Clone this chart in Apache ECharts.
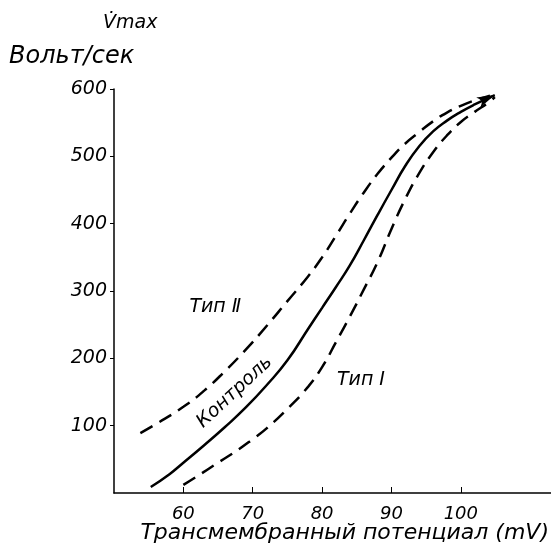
<!DOCTYPE html>
<html>
<head>
<meta charset="utf-8">
<script src="https://cdn.jsdelivr.net/npm/echarts@6/dist/echarts.min.js"></script>
<style>
  html, body { margin: 0; padding: 0; background: #fff; }
  #chart { width: 551px; height: 555px; }
</style>
</head>
<body>
<div id="chart"></div>
<script>
// data: [mV, Volt/sec]
var control = [[55.3, 9], [58, 28], [60, 45], [63, 71], [66, 98], [69, 127], [72, 160], [75, 197],
  [78, 244], [80, 275], [82, 306], [84, 338], [86, 375], [88, 413], [90, 450], [92, 486], [94, 515],
  [96, 537], [98, 553], [100, 566], [102, 577], [104.9, 591]];
var type2 = [[53.8, 89], [56, 102], [60, 128], [63, 152], [66, 181], [69, 213], [72, 248], [75, 285],
  [78, 322], [80, 350], [82, 382], [84, 415], [86, 446], [88, 474], [90, 498], [92, 519], [94, 536],
  [96, 552], [98, 565], [100, 575], [102, 583], [104.2, 590]];
var type1 = [[60, 12], [62, 25], [65, 45], [68, 65], [70, 80], [72, 96], [75, 125], [78, 158], [80, 187],
  [82, 224], [84, 262], [86, 302], [88, 343], [90, 392], [92, 437], [94, 475], [96, 506], [98, 531],
  [100, 551], [102, 566], [104, 580], [104.9, 588]];
var xTicks = [60, 70, 80, 90, 100];
var yTicks = [100, 200, 300, 400, 500, 600];

var font = 'DejaVu Sans';
var myChart = echarts.init(document.getElementById('chart'));

var controlData = control.map(function (p, i) {
  if (i === control.length - 1) {
    return { value: p, symbol: 'arrow', symbolSize: [8, 18], symbolRotate: -66, itemStyle: { color: '#000' } };
  }
  return p;
});

function lineLabel(text, coord, rotate) {
  return {
    symbol: 'circle', symbolSize: 0,
    data: [{ coord: coord, label: { show: true, formatter: text, rotate: rotate || 0, position: 'inside',
      color: '#000', fontFamily: font, fontStyle: 'italic', fontSize: 19 } }]
  };
}

option = {
  backgroundColor: '#fff',
  animation: false,
  grid: { left: 114, right: 0, top: 89, bottom: 62 },
  xAxis: {
    type: 'value',
    min: 50,
    max: 113,
    splitLine: { show: false },
    axisLine: { lineStyle: { color: '#000', width: 1.5 } },
    axisTick: { inside: true, length: 6, customValues: xTicks, lineStyle: { color: '#000' } },
    axisLabel: {
      customValues: xTicks, margin: 12,
      color: '#000', fontFamily: font, fontStyle: 'italic', fontSize: 18
    }
  },
  yAxis: {
    type: 'value',
    min: 0,
    max: 600,
    splitLine: { show: false },
    axisLine: { show: true, lineStyle: { color: '#000', width: 1.5 } },
    axisTick: { show: true, length: 4, customValues: yTicks, lineStyle: { color: '#000' } },
    axisLabel: {
      customValues: yTicks, margin: 7,
      color: '#000', fontFamily: font, fontStyle: 'italic', fontSize: 19
    }
  },
  graphic: [
    { type: 'text', left: 103, top: 14, style: { text: 'V\u0307max', font: 'italic 19px "DejaVu Sans"', fill: '#000' } },
    { type: 'text', left: 9, top: 45, style: { text: 'Вольт/сек', font: 'italic 24px "DejaVu Sans"', fill: '#000' } },
    { type: 'text', right: 2, top: 522, style: { text: 'Трансмембранный потенциал (mV)', font: 'italic 22px "DejaVu Sans"', fill: '#000' } }
  ],
  series: [
    {
      name: 'Контроль',
      type: 'line',
      smooth: true,
      symbol: 'none',
      data: controlData,
      lineStyle: { color: '#000', width: 2.5 },
      markPoint: lineLabel('Контроль', [67.4, 150], 43)
    },
    {
      name: 'Тип II',
      type: 'line',
      smooth: true,
      showSymbol: false,
      data: type2,
      lineStyle: { color: '#000', width: 2.5, type: [14, 8] },
      markPoint: lineLabel('Тип \u2161', [64.6, 276])
    },
    {
      name: 'Тип I',
      type: 'line',
      smooth: true,
      showSymbol: false,
      data: type1,
      lineStyle: { color: '#000', width: 2.5, type: [14, 8] },
      markPoint: lineLabel('Тип \u2160', [85.6, 168])
    }
  ]
};
myChart.setOption(option);
</script>
</body>
</html>
